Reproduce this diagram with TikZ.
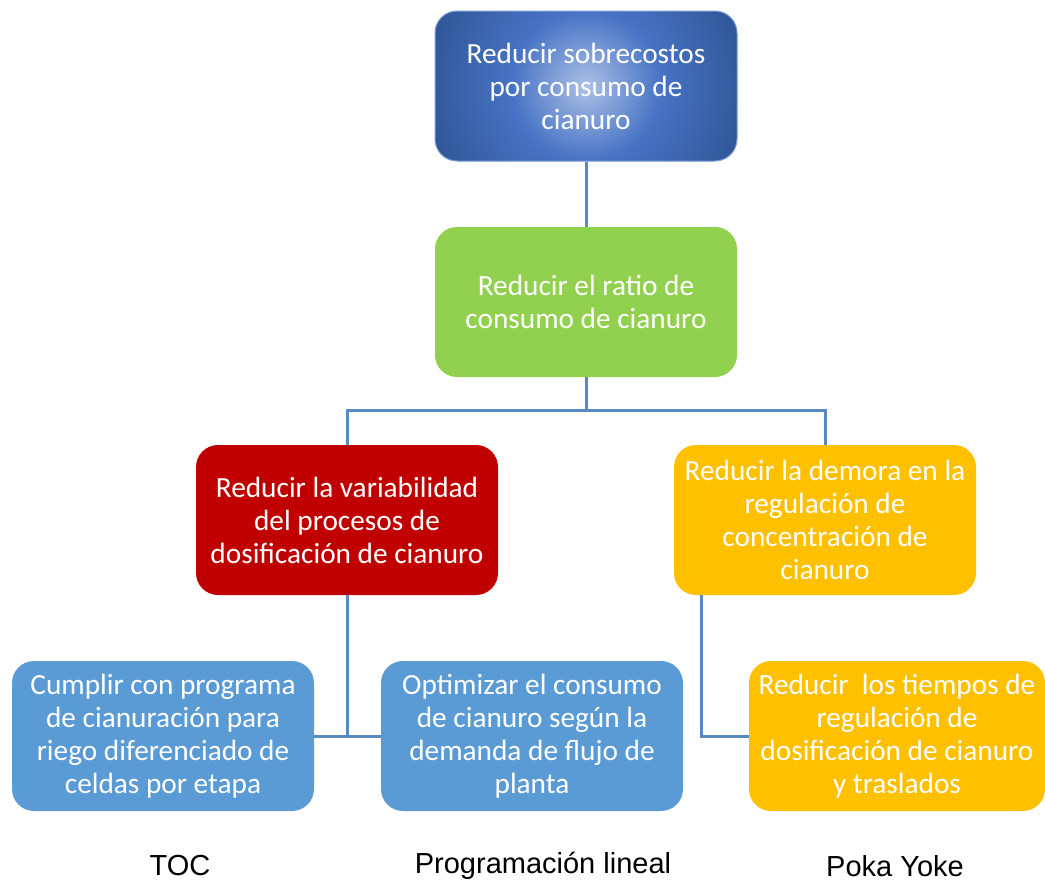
\documentclass[tikz,border=0pt]{standalone}
\usepackage{fontspec}
\setmainfont{Carlito}
\newfontfamily\labelfont{Liberation Sans}
\usetikzlibrary{positioning}
\definecolor{topdark}{HTML}{2E5493}
\definecolor{topmid}{HTML}{4773C4}
\definecolor{toplight}{HTML}{ABC0E6}
\definecolor{goalgreen}{HTML}{92D050}
\definecolor{goalred}{HTML}{C00000}
\definecolor{goalorange}{HTML}{FFC000}
\definecolor{goalblue}{HTML}{5B9BD5}
\definecolor{linkblue}{HTML}{5A8AC2}
\pgfdeclareradialshading{topglow}{\pgfpoint{0bp}{0bp}}{color(0bp)=(toplight); color(11bp)=(topmid); color(25bp)=(topdark); color(50bp)=(topdark)}
\tikzset{
	x=1pt, y=-1pt,
	goal/.style={rounded corners=22pt, minimum width=302pt, minimum height=150pt,
		text width=300pt, align=flush center, text=white, inner sep=0pt,
		font=\fontsize{29.3}{33}\selectfont},
	tool/.style={font=\labelfont\fontsize{29}{33}\selectfont, text=black},
	link/.style={draw=linkblue, line width=3pt}
}

\begin{document}
\begin{tikzpicture}
\useasboundingbox (0,0) rectangle (1045,884);
\node (cost) [goal,fill=topdark,draw=topmid!70!white,line width=1pt,
	path picture={\shade[shading=topglow] (path picture bounding box.center) circle (170pt);}]
	at (586,86) {Reducir sobrecostos\\por consumo de\\cianuro};
\node (ratio) [goal,fill=goalgreen] at (586,302) {Reducir el ratio de\\consumo de cianuro};
\node (var) [goal,fill=goalred] at (347,520) {Reducir la variabilidad\\del procesos de\\dosificación de cianuro};
\node (delay) [goal,fill=goalorange] at (825,520) {Reducir la demora en la\\regulación de\\concentración de\\cianuro};
\node (prog) [goal,fill=goalblue] at (163,736) {Cumplir con programa\\de cianuración para\\riego diferenciado de\\celdas por etapa};
\node (flow) [goal,fill=goalblue] at (532,736) {Optimizar el consumo\\de cianuro según la\\demanda de flujo de\\planta};
\node (times) [goal,fill=goalorange,minimum width=296pt,text width=296pt] at (897,736) {Reducir\ \ los tiempos de\\regulación de\\dosificación de cianuro\\y traslados};
\node (toc) [tool] at (180,866) {TOC};
\node (lp) [tool] at (543,866) {Programación lineal};
\node (poka) [tool] at (895,866) {Poka Yoke};
\coordinate (split) at (586,410);
\draw[link] (cost.south) -- (ratio.north);
\draw[link] (ratio.south) -- (split);
\draw[link] (var.north) |- (split) -| (delay.north);
\draw[link] (var.south) -- (var.south |- prog.east);
\draw[link] (prog.east) -- (flow.west);
\draw[link] ([xshift=28pt]delay.south west) |- (times.west);
\end{tikzpicture}
\end{document}
